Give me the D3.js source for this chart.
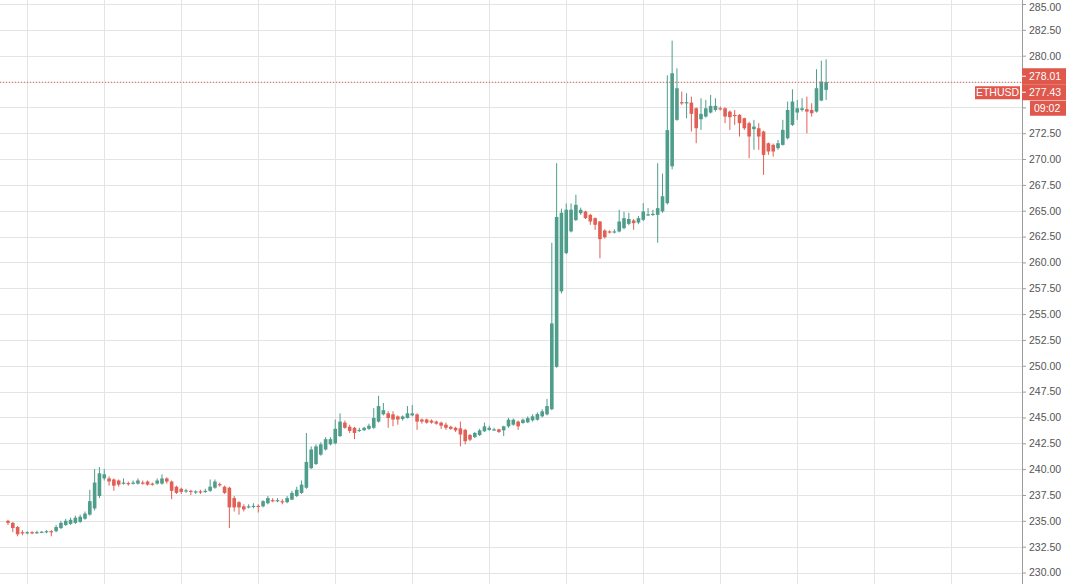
<!DOCTYPE html>
<html><head><meta charset="utf-8">
<script src="https://cdn.jsdelivr.net/npm/d3@7"></script>
<style>body{margin:0;background:#fff}svg{display:block}</style>
</head><body>
<svg id="chart" width="1080" height="584"></svg>
<script>
// 15-minute ETHUSD candles, index 0..170
const opens = [235.0,234.8,234.4,233.9,233.8,233.9,233.85,233.9,233.95,234.0,234.0,234.3,234.6,234.7,234.8,234.9,235.2,235.6,236.2,237.4,239.1,239.1,239.0,238.9,238.6,238.65,238.6,238.6,238.7,238.8,238.6,238.6,238.6,239.1,238.8,238.3,238.1,237.9,237.9,237.8,237.85,237.85,237.9,238.2,238.55,238.3,238.2,237.2,236.8,236.4,236.35,236.4,236.45,236.4,236.7,237.0,236.95,236.9,236.8,237.05,237.4,237.7,238.2,240.1,240.5,241.4,241.9,242.4,242.5,243.2,244.5,244.1,244.0,243.75,243.76,243.9,244.0,244.6,245.3,245.4,245.3,245.1,244.85,244.95,245.2,245.3,244.8,244.8,244.7,244.6,244.5,244.3,244.1,244.0,243.95,243.8,243.3,243.1,243.3,243.66,243.8,243.82,243.85,243.75,244.14,244.3,244.6,244.46,244.53,244.72,244.78,245.11,245.3,245.8,249.9,257.2,260.9,263.0,264.1,264.76,264.93,264.6,264.28,263.96,263.09,263.0,262.95,262.99,263.32,263.73,264.06,263.86,264.12,264.6,264.65,264.6,264.93,265.73,269.3,273.79,275.5,275.46,275.46,274.91,273.85,274.11,274.5,274.75,274.91,274.91,274.59,274.27,274.27,273.95,273.47,272.89,272.98,272.66,271.53,271.37,271.05,271.37,272.01,273.3,274.5,274.75,274.82,274.75,274.59,275.66,276.69];
const highs = [235.1,234.9,234.5,234.1,234.0,234.0,234.05,234.0,234.1,234.1,234.6,235.0,235.2,235.3,235.5,235.6,235.9,238.0,240.0,240.2,240.0,239.3,239.1,239.0,239.1,238.8,238.9,239.1,238.9,238.9,238.7,239.1,239.5,239.2,238.9,238.4,238.2,238.1,238.0,237.95,238.0,238.1,239.0,239.0,238.7,238.4,238.3,237.4,236.9,236.6,236.6,236.7,236.6,237.0,237.4,237.2,237.2,237.1,237.4,237.9,238.3,238.9,243.5,242.2,242.4,242.6,243.1,243.1,244.8,245.4,244.7,244.3,244.1,244.0,244.1,244.4,245.9,247.1,246.4,245.6,245.6,245.2,245.2,246.1,246.2,245.4,244.9,244.9,244.8,244.7,244.6,244.5,244.2,244.1,244.6,243.9,243.4,243.6,243.9,244.5,244.2,244.0,243.9,244.2,244.95,244.9,244.7,244.9,245.1,245.3,245.5,245.8,246.8,261.9,269.6,265.2,265.7,265.7,266.54,265.3,265.0,264.7,264.35,264.0,263.2,263.1,263.2,265.09,264.9,264.8,264.2,264.5,265.73,265.25,265.09,269.6,268.6,278.1,281.45,278.78,276.53,276.37,276.04,275.0,275.88,275.72,276.2,275.88,275.1,275.0,274.7,274.75,274.35,274.0,273.6,273.79,273.47,272.75,271.6,271.5,271.85,273.79,275.56,276.75,275.72,275.88,276.04,275.4,278.69,279.52,279.65];
const lows = [234.6,233.9,233.5,233.6,233.7,233.7,233.75,233.8,233.8,233.5,233.9,234.2,234.5,234.6,234.7,234.8,235.1,235.5,236.0,237.2,238.9,238.4,237.9,238.3,238.5,238.4,238.5,238.5,238.5,238.4,238.4,238.5,238.5,238.6,237.1,237.6,237.6,237.7,237.5,237.6,237.6,237.7,237.8,238.1,238.3,237.6,234.3,235.9,235.6,235.9,236.2,236.2,235.8,236.3,236.6,236.8,236.8,236.6,236.7,237.0,237.3,237.6,238.1,240.0,240.4,241.3,241.8,242.3,242.4,243.1,243.9,243.5,242.9,243.6,243.7,243.8,243.9,244.5,245.2,244.0,244.15,244.3,244.7,244.9,245.1,243.8,244.4,244.4,244.4,244.3,243.9,243.8,243.8,243.6,242.2,242.4,242.7,243.0,243.2,243.6,243.7,243.7,243.5,243.2,244.0,244.2,243.8,244.4,244.45,244.6,244.7,245.0,245.2,245.7,249.8,257.0,260.8,262.9,264.0,264.6,264.2,263.64,263.15,260.4,262.3,262.8,262.8,262.9,263.2,263.6,263.15,263.7,264.0,264.5,264.5,261.9,264.8,265.6,269.0,273.7,275.24,273.95,272.66,271.53,272.82,274.0,274.4,274.6,274.7,273.47,272.82,273.3,272.18,272.82,270.08,270.9,270.89,268.47,270.4,270.24,270.89,271.3,271.9,273.2,273.79,274.6,272.5,274.11,274.5,275.6,275.72];
const closes = [234.8,234.3,233.7,233.8,233.9,233.85,233.9,233.95,234.0,233.9,234.4,234.8,235.0,235.1,235.3,235.4,235.7,236.9,238.7,239.6,239.5,238.8,238.4,238.5,238.7,238.6,238.7,238.9,238.65,238.5,238.5,238.9,239.1,238.8,237.9,237.7,237.8,237.95,237.85,237.85,237.8,237.9,238.3,238.8,238.5,237.7,236.3,236.3,236.3,236.1,236.4,236.45,236.35,236.9,237.2,236.95,237.0,236.85,237.2,237.7,238.0,238.5,240.7,241.9,242.2,242.4,242.9,242.9,243.9,244.6,244.0,243.7,243.5,243.8,244.0,244.2,244.95,246.1,245.7,244.95,244.8,244.8,245.1,245.4,245.4,244.6,244.6,244.5,244.5,244.4,244.2,244.0,243.9,243.75,243.35,242.7,242.85,243.5,243.75,244.14,244.0,243.85,243.6,244.14,244.78,244.78,244.14,244.78,244.94,245.11,245.33,245.59,246.1,254.1,264.4,264.8,265.1,265.1,265.57,265.09,264.28,263.96,263.64,262.25,262.44,262.95,263.0,263.96,264.28,264.2,263.8,264.28,264.93,264.65,264.7,265.25,266.4,272.8,278.3,276.85,275.46,275.5,274.37,272.98,274.37,274.91,275.14,275.14,274.88,274.11,274.05,274.25,273.47,272.98,272.18,273.14,272.18,270.4,270.73,270.73,271.53,272.82,274.75,275.56,274.91,274.91,274.59,274.43,276.85,277.49,277.43];

const priceTicks = [230,232.5,235,237.5,240,242.5,245,247.5,250,252.5,255,257.5,260,262.5,265,267.5,270,272.5,275,277.5,280,282.5,285];
const gridEveryBars = 16;       // one vertical grid line every 4 hours
const firstGridBar = 4;
const symbol = "ETHUSD";
const lastPrice = 277.43;
const markerPrice = "278.01";
const countdown = "09:02";

const W = 1080, H = 584, axisX = 1022;
const svg = d3.select("#chart");
const x = d3.scaleLinear().domain([-1.662, 210.7]).range([0, axisX]);
const y = d3.scaleLinear().domain([230, 285]).range([572.5, 4]);

const upCol = "#4f9d8b", downCol = "#e15f55", labelCol = "#e0574c";
const font = "'Liberation Sans', Arial, sans-serif";

// horizontal grid
svg.append("g").selectAll("line").data(priceTicks).join("line")
  .attr("x1", 0).attr("x2", axisX)
  .attr("y1", d => Math.round(y(d)) + 0.5).attr("y2", d => Math.round(y(d)) + 0.5)
  .attr("stroke", "#e4e4e4").attr("stroke-width", 1);

// vertical grid
const vBars = d3.range(firstGridBar, 211, gridEveryBars).filter(i => x(i) < axisX - 20);
svg.append("g").selectAll("line").data(vBars).join("line")
  .attr("x1", d => Math.round(x(d)) + 0.5).attr("x2", d => Math.round(x(d)) + 0.5)
  .attr("y1", 0).attr("y2", H)
  .attr("stroke", "#e4e4e4").attr("stroke-width", 1);

// candles
const idx = d3.range(opens.length);
const bodyW = 3.6;
const g = svg.append("g");
g.selectAll("line.w").data(idx).join("line").attr("class", "w")
  .attr("x1", i => x(i)).attr("x2", i => x(i))
  .attr("y1", i => y(highs[i])).attr("y2", i => y(lows[i]))
  .attr("stroke", i => closes[i] >= opens[i] ? upCol : downCol).attr("stroke-width", 1);
g.selectAll("rect.b").data(idx).join("rect").attr("class", "b")
  .attr("x", i => x(i) - bodyW / 2).attr("width", bodyW)
  .attr("y", i => y(Math.max(opens[i], closes[i])))
  .attr("height", i => Math.max(1.2, Math.abs(y(opens[i]) - y(closes[i]))))
  .attr("fill", i => closes[i] >= opens[i] ? upCol : downCol);

// price line
const ly = y(lastPrice);
svg.append("line").attr("x1", 0).attr("x2", axisX).attr("y1", ly).attr("y2", ly)
  .attr("stroke", labelCol).attr("stroke-width", 1).attr("stroke-dasharray", "1,2");

// right axis (tick labels hidden where the price labels cover them)
const covered = d => y(d) > ly - 16 && y(d) < ly + 36;
svg.append("line").attr("x1", axisX + 0.5).attr("x2", axisX + 0.5).attr("y1", 0).attr("y2", H)
  .attr("stroke", "#9c9c9c");
const ax = svg.append("g").attr("transform", `translate(${axisX},0)`)
  .call(d3.axisRight(y).tickValues(priceTicks).tickFormat(d3.format(".2f")).tickSize(4).tickPadding(3));
ax.select(".domain").remove();
ax.selectAll(".tick line").attr("stroke", "#9c9c9c");
ax.selectAll(".tick text").attr("fill", "#555").style("font-family", font).style("font-size", "10.5px")
  .attr("y", d => d === 285 ? 3 : 0)
  .style("display", d => covered(d) ? "none" : null);

// labels
function box(x0, yc, w, h, txt, tx, anchor) {
  svg.append("rect").attr("x", x0).attr("y", yc - h / 2).attr("width", w).attr("height", h).attr("fill", labelCol);
  svg.append("text").attr("x", tx).attr("y", yc).attr("dy", "0.35em").attr("text-anchor", anchor || "start")
    .attr("fill", "#fff").style("font-family", font).style("font-size", "10.5px").text(txt);
}
box(axisX, ly - 6, 44, 16, markerPrice, axisX + 7);
box(axisX, ly + 10, 44, 16, String(lastPrice.toFixed(2)), axisX + 7);
box(975, ly + 10.5, 45, 13, symbol, 997.5, "middle");
box(axisX + 8, ly + 26, 36, 15, countdown, axisX + 12);
[ly - 6, ly + 10].forEach(t => svg.append("line").attr("x1", axisX).attr("x2", axisX + 4)
  .attr("y1", t).attr("y2", t).attr("stroke", "#fff"));
</script>
</body></html>
